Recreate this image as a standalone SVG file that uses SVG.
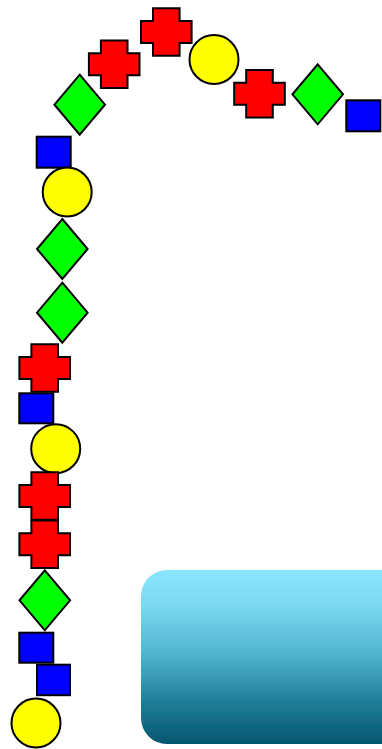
<svg xmlns="http://www.w3.org/2000/svg" width="382" height="749" viewBox="0 0 382 749">
<style>
.s{stroke:#000;stroke-width:2;stroke-linejoin:miter}
.cross{fill:#ff0000}
.dia{fill:#00ff00}
.sq{fill:#0000ff}
.circ{fill:#ffff00}
</style>
<defs>
<path id="crossShape" d="M -13.3,-23.7 H 13.3 V -11 H 25.3 V 11 H 13.3 V 23.7 H -13.3 V 11 H -25.3 V -11 H -13.3 Z"/>
<path id="diaShape" d="M 0,-30 L 25.3,0 L 0,30 L -25.3,0 Z"/>
<linearGradient id="panelGrad" x1="0" y1="0" x2="0" y2="1">
<stop offset="0" stop-color="#88e5fc"/>
<stop offset="0.2" stop-color="#7cd9f2"/>
<stop offset="0.5" stop-color="#4eb1cb"/>
<stop offset="0.75" stop-color="#217f9a"/>
<stop offset="1" stop-color="#045670"/>
</linearGradient>
<filter id="soft" x="-5%" y="-5%" width="110%" height="110%">
<feGaussianBlur stdDeviation="0.7"/>
</filter>
</defs>
<g id="panel">
<rect x="141" y="570" width="270" height="174" rx="26" ry="26" fill="url(#panelGrad)" filter="url(#soft)"/>
</g>
<g id="connectors"/>
<g id="n-cross1"><use href="#crossShape" class="s cross" transform="translate(166.3,32)"/></g>
<g id="n-cross2"><use href="#crossShape" class="s cross" transform="translate(114.2,64.2)"/></g>
<g id="n-circle1"><circle cx="214" cy="59.5" r="24.5" class="s circ"/></g>
<g id="n-cross3"><use href="#crossShape" class="s cross" transform="translate(259.5,93.8)"/></g>
<g id="n-dia-right"><use href="#diaShape" class="s dia" transform="translate(317.7,94.3)"/></g>
<g id="n-sq-right"><rect x="346.3" y="100.3" width="34" height="31" class="s sq"/></g>
<g id="n-dia-topleft"><use href="#diaShape" class="s dia" transform="translate(79.7,104.7)"/></g>
<g id="n-sq-topleft"><rect x="36.7" y="136.7" width="34" height="31" class="s sq"/></g>
<g id="n-circle2"><circle cx="67.2" cy="192" r="24.5" class="s circ"/></g>
<g id="n-dia1"><use href="#diaShape" class="s dia" transform="translate(62.3,249)"/></g>
<g id="n-dia2"><use href="#diaShape" class="s dia" transform="translate(62.3,312.7)"/></g>
<g id="n-cross4"><use href="#crossShape" class="s cross" transform="translate(44.7,368)"/></g>
<g id="n-sq2"><rect x="19.3" y="393.3" width="34" height="30" class="s sq"/></g>
<g id="n-circle3"><circle cx="55.7" cy="448.7" r="24.5" class="s circ"/></g>
<g id="n-cross5"><use href="#crossShape" class="s cross" transform="translate(44.7,496)"/></g>
<g id="n-cross6"><use href="#crossShape" class="s cross" transform="translate(44.7,544.3)"/></g>
<g id="n-dia3"><use href="#diaShape" class="s dia" transform="translate(44.8,600.3)"/></g>
<g id="n-sq3"><rect x="19.3" y="632.7" width="34" height="30" class="s sq"/></g>
<g id="n-sq4"><rect x="37" y="664.7" width="33" height="30.5" class="s sq"/></g>
<g id="n-circle4"><circle cx="36" cy="723" r="24.5" class="s circ"/></g>
</svg>
